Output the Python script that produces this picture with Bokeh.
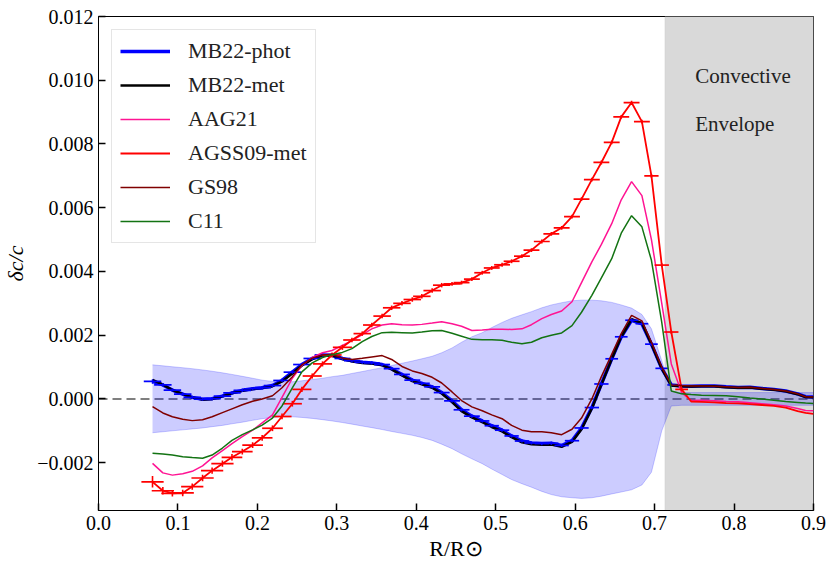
import numpy as np
from bokeh.plotting import figure
from bokeh.models import (ColumnDataSource, FixedTicker, CustomJSTickFormatter,
                          Legend, LegendItem, BoxAnnotation, Span, Label)
from bokeh.embed import file_html
from bokeh.resources import INLINE

# ---------------- data (delta c / c given in units of 1e-3) ----------------
r = [0.068, 0.081, 0.093, 0.106, 0.118, 0.131, 0.143, 0.156, 0.168, 0.181,
     0.194, 0.206, 0.219, 0.231, 0.244, 0.256, 0.269, 0.282, 0.294, 0.307,
     0.319, 0.332, 0.344, 0.357, 0.369, 0.382, 0.395, 0.407, 0.420, 0.432,
     0.445, 0.457, 0.470, 0.483, 0.495, 0.508, 0.520, 0.533, 0.545, 0.558,
     0.570, 0.583, 0.596, 0.608, 0.621, 0.633, 0.646, 0.658, 0.671, 0.684,
     0.696, 0.709, 0.721, 0.734, 0.746, 0.759, 0.775, 0.790, 0.805, 0.820,
     0.835, 0.850, 0.865, 0.880, 0.890, 0.900]

mb22_met = [0.60, 0.45, 0.28, 0.15, 0.05, -0.02, 0.00, 0.08, 0.18, 0.26,
            0.31, 0.34, 0.40, 0.55, 0.80, 1.05, 1.25, 1.37, 1.36, 1.25,
            1.18, 1.13, 1.11, 1.06, 0.93, 0.74, 0.56, 0.46, 0.35, 0.17,
            -0.10, -0.38, -0.58, -0.73, -0.88, -1.02, -1.20, -1.36, -1.42, -1.44,
            -1.43, -1.50, -1.35, -0.95, -0.30, 0.45, 1.25, 1.95, 2.50, 2.38,
            1.72, 0.95, 0.42, 0.40, 0.39, 0.40, 0.40, 0.37, 0.35, 0.36,
            0.32, 0.29, 0.24, 0.15, 0.06, 0.05]

mb22_phot = [0.55, 0.44, 0.28, 0.15, 0.05, -0.01, 0.01, 0.09, 0.19, 0.27,
             0.32, 0.35, 0.42, 0.58, 0.84, 1.08, 1.27, 1.38, 1.37, 1.27,
             1.20, 1.15, 1.13, 1.08, 0.95, 0.77, 0.59, 0.49, 0.38, 0.20,
             -0.06, -0.34, -0.54, -0.69, -0.84, -0.98, -1.16, -1.32, -1.38, -1.40,
             -1.39, -1.46, -1.31, -0.91, -0.27, 0.47, 1.26, 1.95, 2.47, 2.36,
             1.72, 0.96, 0.44, 0.41, 0.40, 0.41, 0.41, 0.38, 0.36, 0.37,
             0.33, 0.30, 0.25, 0.16, 0.07, 0.06]

aag21 = [-2.02, -2.32, -2.39, -2.35, -2.27, -2.10, -1.85, -1.62, -1.40, -1.18,
         -0.98, -0.75, -0.50, 0.05, 0.65, 1.05, 1.30, 1.45, 1.52, 1.68,
         1.83, 2.02, 2.20, 2.32, 2.36, 2.33, 2.32, 2.34, 2.38, 2.42,
         2.36, 2.28, 2.15, 2.16, 2.19, 2.19, 2.18, 2.20, 2.33, 2.52,
         2.65, 2.76, 3.05, 3.65, 4.30, 4.85, 5.50, 6.25, 6.82, 6.38,
         5.00, 3.00, 1.10, 0.20, -0.05, -0.04, -0.06, -0.08, -0.09, -0.12,
         -0.15, -0.18, -0.22, -0.30, -0.36, -0.37]

agss09_met = [-2.60, -2.88, -2.96, -2.95, -2.75, -2.48, -2.25, -2.03, -1.83, -1.65,
              -1.45, -1.22, -0.92, -0.55, -0.15, 0.30, 0.72, 1.10, 1.38, 1.62,
              1.85, 2.05, 2.32, 2.60, 2.86, 3.00, 3.12, 3.22, 3.40, 3.57,
              3.61, 3.65, 3.76, 3.96, 4.11, 4.21, 4.32, 4.48, 4.67, 4.94,
              5.18, 5.37, 5.72, 6.27, 6.88, 7.42, 8.05, 8.85, 9.30, 8.70,
              7.00, 4.20, 2.10, 0.30, -0.08, -0.09, -0.11, -0.13, -0.14, -0.16,
              -0.19, -0.22, -0.27, -0.38, -0.44, -0.47]

gs98 = [-0.24, -0.44, -0.56, -0.64, -0.68, -0.65, -0.56, -0.43, -0.31, -0.18,
        -0.07, 0.00, 0.10, 0.35, 0.70, 1.07, 1.28, 1.38, 1.40, 1.28,
        1.24, 1.28, 1.32, 1.36, 1.24, 1.02, 0.88, 0.80, 0.68, 0.50,
        0.22, -0.05, -0.25, -0.37, -0.50, -0.62, -0.83, -0.98, -1.03, -1.03,
        -1.06, -1.12, -0.95, -0.60, 0.00, 0.70, 1.40, 2.05, 2.62, 2.45,
        1.78, 1.00, 0.44, 0.42, 0.41, 0.41, 0.40, 0.38, 0.36, 0.37,
        0.33, 0.30, 0.25, 0.16, 0.07, 0.06]

c11 = [-1.70, -1.73, -1.76, -1.81, -1.84, -1.86, -1.76, -1.54, -1.30, -1.12,
       -0.97, -0.82, -0.60, -0.22, 0.35, 0.85, 1.13, 1.30, 1.39, 1.46,
       1.58, 1.80, 1.96, 2.08, 2.09, 2.08, 2.07, 2.10, 2.14, 2.15,
       2.06, 1.97, 1.87, 1.86, 1.86, 1.84, 1.78, 1.73, 1.78, 1.92,
       2.00, 2.07, 2.30, 2.72, 3.25, 3.80, 4.40, 5.20, 5.75, 5.40,
       4.35, 2.40, 0.25, 0.16, 0.14, 0.12, 0.11, 0.10, 0.07, 0.03,
       0.00, -0.04, -0.08, -0.11, -0.13, -0.14]

band_hi = [1.07, 1.04, 1.01, 0.98, 0.95, 0.91, 0.87, 0.82, 0.77, 0.71,
           0.65, 0.59, 0.55, 0.53, 0.54, 0.57, 0.61, 0.65, 0.70, 0.74,
           0.80, 0.86, 0.92, 0.98, 1.05, 1.12, 1.19, 1.26, 1.34, 1.45,
           1.60, 1.78, 1.95, 2.08, 2.24, 2.40, 2.53, 2.64, 2.74, 2.86,
           2.95, 3.02, 3.08, 3.10, 3.10, 3.08, 3.03, 2.95, 2.85, 2.65,
           2.20, 1.20, 0.25, 0.20, 0.20, 0.20, 0.20, 0.20, 0.20, 0.20,
           0.20, 0.20, 0.20, 0.20, 0.20, 0.20]

band_lo = [-1.06, -1.03, -1.00, -0.97, -0.94, -0.91, -0.87, -0.83, -0.78, -0.73,
           -0.67, -0.62, -0.58, -0.56, -0.56, -0.58, -0.61, -0.65, -0.69, -0.74,
           -0.79, -0.85, -0.90, -0.96, -1.02, -1.08, -1.14, -1.21, -1.30, -1.42,
           -1.56, -1.72, -1.88, -2.03, -2.20, -2.37, -2.53, -2.66, -2.77, -2.90,
           -3.00, -3.07, -3.10, -3.12, -3.10, -3.05, -2.98, -2.92, -2.85, -2.70,
           -2.30, -1.00, -0.22, -0.20, -0.20, -0.20, -0.20, -0.20, -0.20, -0.20,
           -0.20, -0.20, -0.20, -0.20, -0.20, -0.20]

# error bars: half widths in r, half heights in units of 1e-3
agss09_xerr = [0.014, 0.014, 0.014, 0.014, 0.014, 0.014, 0.014, 0.014, 0.013, 0.013,
               0.013, 0.013, 0.013, 0.012, 0.012, 0.012, 0.012, 0.012, 0.012, 0.012,
               0.011, 0.011, 0.011, 0.011, 0.011, 0.011, 0.011, 0.011, 0.011, 0.011,
               0.011, 0.010, 0.010, 0.010, 0.010, 0.010, 0.010, 0.010, 0.010, 0.010,
               0.010, 0.010, 0.010, 0.010, 0.010, 0.010, 0.010, 0.010, 0.010, 0.010,
               0.009, 0.009, 0.009, 0.008, 0.0, 0.0, 0.0, 0.0, 0.0, 0.0,
               0.0, 0.0, 0.0, 0.0, 0.0, 0.0]
agss09_yerr = [0.18, 0.12, 0.10, 0.10, 0.10, 0.10, 0.10, 0.10, 0.10, 0.09,
               0.09, 0.09, 0.09, 0.09, 0.09, 0.08, 0.08, 0.08, 0.08, 0.08,
               0.07, 0.07, 0.07, 0.07, 0.07, 0.07, 0.07, 0.07, 0.07, 0.07,
               0.06, 0.06, 0.06, 0.06, 0.06, 0.06, 0.06, 0.06, 0.06, 0.06,
               0.06, 0.06, 0.06, 0.06, 0.06, 0.06, 0.06, 0.06, 0.06, 0.06,
               0.06, 0.06, 0.06, 0.06, 0.0, 0.0, 0.0, 0.0, 0.0, 0.0,
               0.0, 0.0, 0.0, 0.0, 0.0, 0.0]
phot_xerr = [0.011, 0.011, 0.011, 0.011, 0.011, 0.011, 0.011, 0.011, 0.011, 0.011,
             0.011, 0.011, 0.011, 0.011, 0.011, 0.011, 0.011, 0.010, 0.010, 0.010,
             0.010, 0.010, 0.010, 0.010, 0.010, 0.010, 0.010, 0.010, 0.010, 0.010,
             0.010, 0.010, 0.010, 0.009, 0.009, 0.009, 0.009, 0.009, 0.009, 0.009,
             0.009, 0.009, 0.009, 0.009, 0.009, 0.009, 0.008, 0.008, 0.008, 0.008,
             0.008, 0.008, 0.005, 0.0, 0.0, 0.0, 0.0, 0.0, 0.0, 0.0,
             0.0, 0.0, 0.0, 0.0, 0.0, 0.0]
phot_yerr = [0.07, 0.05, 0.05, 0.05, 0.05, 0.05, 0.05, 0.05, 0.05, 0.05,
             0.05, 0.05, 0.05, 0.05, 0.05, 0.05, 0.05, 0.05, 0.05, 0.05,
             0.05, 0.05, 0.05, 0.05, 0.05, 0.05, 0.05, 0.05, 0.05, 0.05,
             0.05, 0.05, 0.05, 0.05, 0.05, 0.05, 0.05, 0.05, 0.05, 0.05,
             0.05, 0.05, 0.05, 0.05, 0.05, 0.05, 0.05, 0.05, 0.05, 0.05,
             0.05, 0.05, 0.05, 0.0, 0.0, 0.0, 0.0, 0.0, 0.0, 0.0,
             0.0, 0.0, 0.0, 0.0, 0.0, 0.0]

x_ticks = [0.0, 0.1, 0.2, 0.3, 0.4, 0.5, 0.6, 0.7, 0.8, 0.9]
y_ticks = [-0.002, 0.0, 0.002, 0.004, 0.006, 0.008, 0.010, 0.012]
series_labels = ["MB22-phot", "MB22-met", "AAG21", "AGSS09-met", "GS98", "C11"]
r_cz = 0.713          # base of the convective envelope
UNIT = 1e-3

# ---------------- sources ----------------
R = np.array(r)
def sc(a):
    return np.array(a) * UNIT

src = ColumnDataSource(dict(
    r=R, met=sc(mb22_met), phot=sc(mb22_phot), aag=sc(aag21),
    agss=sc(agss09_met), gs=sc(gs98), c11=sc(c11),
    hi=sc(band_hi), lo=sc(band_lo)))

def errsrc(y, xe, ye):
    y = sc(y); xe = np.array(xe); ye = sc(ye)
    keep = xe > 0
    return ColumnDataSource(dict(
        hx0=(R - xe)[keep], hx1=(R + xe)[keep], hy=y[keep],
        vx=R[keep], vy0=(y - ye)[keep], vy1=(y + ye)[keep]))

err_agss = errsrc(agss09_met, agss09_xerr, agss09_yerr)
err_phot = errsrc(mb22_phot, phot_xerr, phot_yerr)

# ---------------- figure ----------------
SERIF = "Liberation Serif"
p = figure(width=829, height=563, x_range=(0.0, 0.9), y_range=(-0.0035, 0.012),
           output_backend="svg", toolbar_location=None,
           min_border_left=98, min_border_right=16, min_border_top=16,
           min_border_bottom=53)
p.xgrid.visible = False
p.ygrid.visible = False
p.outline_line_color = "black"
p.outline_line_width = 1
p.background_fill_color = "white"
p.border_fill_color = "white"

p.add_layout(BoxAnnotation(left=r_cz, fill_color="#d9d9d9", fill_alpha=1.0,
                           line_color="#bdbdbd", line_width=1, level="underlay"))
p.add_layout(Span(location=0.0, dimension="width", line_color="#555555",
                  line_width=1.6, line_dash="9 5", level="underlay"))

p.varea(x="r", y1="lo", y2="hi", source=src, fill_color="blue", fill_alpha=0.2)
p.line("r", "hi", source=src, line_color="blue", line_alpha=0.2, line_width=1)
p.line("r", "lo", source=src, line_color="blue", line_alpha=0.2, line_width=1)

l_phot = p.line("r", "phot", source=src, line_color="blue", line_width=3.5)
l_met = p.line("r", "met", source=src, line_color="black", line_width=2.5)
p.segment("hx0", "hy", "hx1", "hy", source=err_phot, line_color="blue", line_width=1.7)
p.segment("vx", "vy0", "vx", "vy1", source=err_phot, line_color="blue", line_width=1.5)
l_aag = p.line("r", "aag", source=src, line_color="#ff1493", line_width=1.5)
l_agss = p.line("r", "agss", source=src, line_color="red", line_width=1.8)
p.segment("hx0", "hy", "hx1", "hy", source=err_agss, line_color="red", line_width=1.7)
p.segment("vx", "vy0", "vx", "vy1", source=err_agss, line_color="red", line_width=1.6)
l_gs = p.line("r", "gs", source=src, line_color="#800000", line_width=1.5)
l_c11 = p.line("r", "c11", source=src, line_color="#137313", line_width=1.5)

# ---------------- axes ----------------
p.xaxis.ticker = FixedTicker(ticks=x_ticks)
p.yaxis.ticker = FixedTicker(ticks=y_ticks)
p.xaxis.formatter = CustomJSTickFormatter(code="""
    return Math.abs(tick) < 1e-9 ? '0.0' : tick.toFixed(1);""")
p.yaxis.formatter = CustomJSTickFormatter(code="""
    if (Math.abs(tick) < 1e-12) { return '0.000'; }
    return (tick < 0 ? '\u2212' : '') + Math.abs(tick).toFixed(3);""")
for ax in (p.xaxis[0], p.yaxis[0]):
    ax.major_tick_in = 7
    ax.major_tick_out = 0
    ax.major_tick_line_width = 1.5
    ax.minor_tick_line_color = None
    ax.axis_line_width = 1
    ax.major_label_text_font = SERIF
    ax.major_label_text_font_size = "20px"
    ax.major_label_text_color = "black"
    ax.axis_label_text_font = SERIF
    ax.axis_label_text_font_size = "22px"
    ax.axis_label_text_color = "black"
p.xaxis.axis_label = "R/R\u2299"
p.xaxis.axis_label_text_font_style = "normal"
p.xaxis.major_label_standoff = 5
p.xaxis.axis_label_standoff = 3
p.yaxis.axis_label = "\u03b4c/c"
p.yaxis.axis_label_text_font_style = "italic"
p.yaxis.major_label_standoff = 5
p.yaxis.axis_label_standoff = 6

# ---------------- annotations ----------------
for txt, yy in (("Convective", 0.01013), ("Envelope", 0.00863)):
    p.add_layout(Label(x=0.751, y=yy, text=txt, text_font=SERIF,
                       text_font_size="21px", text_color="#222222",
                       text_baseline="alphabetic"))

legend = Legend(items=[LegendItem(label=lab, renderers=[rr]) for lab, rr in zip(
    series_labels, [l_phot, l_met, l_aag, l_agss, l_gs, l_c11])],
    location="top_left")
legend.margin = 13
legend.padding = 8
legend.spacing = 8
legend.glyph_width = 50
legend.glyph_height = 24
legend.label_height = 24
legend.label_standoff = 18
legend.label_text_font = SERIF
legend.label_text_font_size = "22px"
legend.label_text_color = "#222222"
legend.border_line_color = "#cccccc"
legend.border_line_width = 1
legend.background_fill_alpha = 0.8
p.add_layout(legend)

open("out.html", "w").write(file_html(p, INLINE))
